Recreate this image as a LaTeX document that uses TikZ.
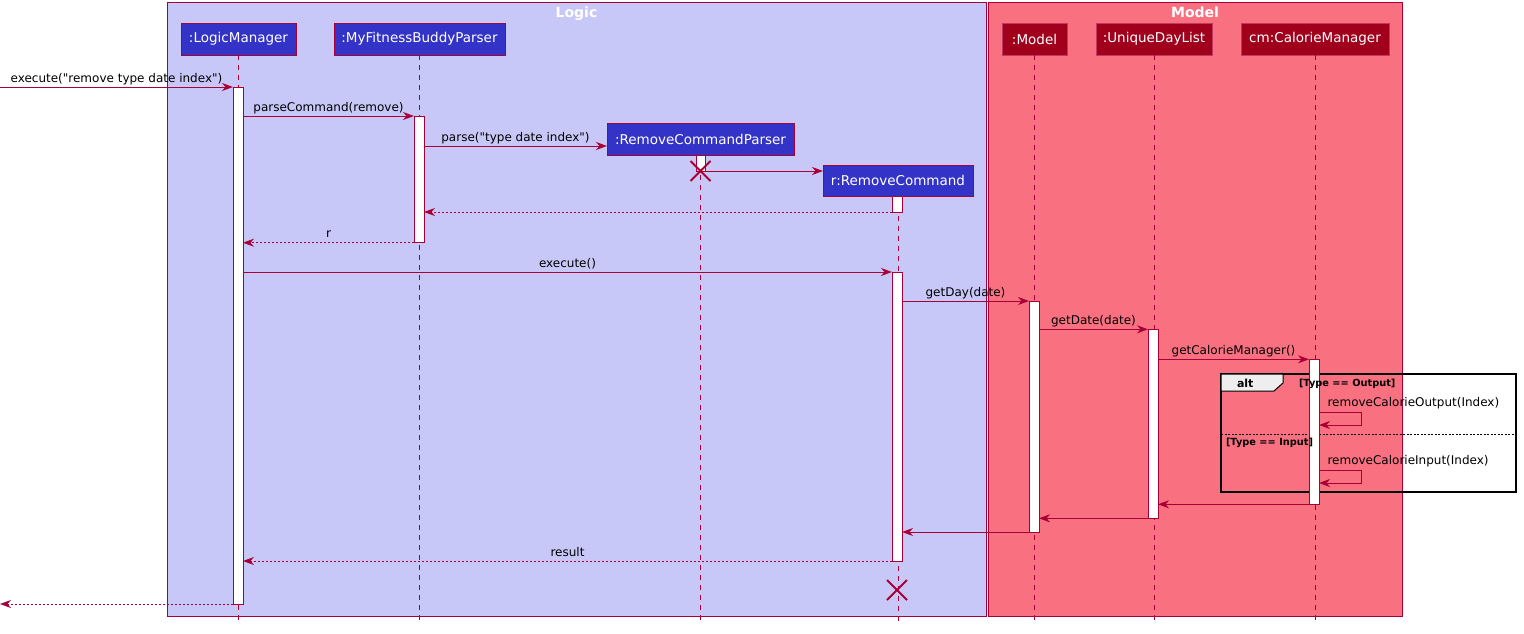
\documentclass[tikz,border=0pt]{standalone}
\usepackage{fontspec}
\setmainfont{DejaVu Sans}[Ligatures=TeXOff]
\usetikzlibrary{arrows.meta,shapes.misc}
\definecolor{crim}{HTML}{A80036}
\definecolor{logicbg}{HTML}{C8C8F8}
\definecolor{modelbg}{HTML}{F97181}
\definecolor{pblue}{HTML}{3333C8}
\definecolor{pred}{HTML}{A0001C}
\definecolor{altgray}{HTML}{EEEEEE}
\begin{document}
\begin{tikzpicture}[x=1pt,y=-1pt,
  every node/.style={inner sep=0pt, outer sep=0pt},
  grp/.style={draw=crim, line width=1pt},
  grptitle/.style={text=white, font=\bfseries\fontsize{14}{16}\selectfont, anchor=base},
  part/.style={draw=crim, line width=1pt, text=white, font=\fontsize{13.5}{16}\selectfont, minimum height=32, inner sep=0pt},
  lpart/.style={part, fill=pblue},
  mpart/.style={part, fill=pred, draw=crim!70!pink},
  act/.style={draw=crim, fill=white, line width=1pt, minimum width=10, inner sep=0pt},
  life/.style={draw=crim, line width=1pt, dash pattern=on 5pt off 5pt},
  msg/.style={draw=crim, line width=1pt, -{Stealth[length=11pt,width=8pt,inset=3.5pt]}},
  ret/.style={msg, dash pattern=on 2pt off 2pt},
  lbl/.style={font=\fontsize{12}{14}\selectfont, anchor=base, text=black, yshift=5pt},
  destroy/.style={draw=crim, line width=2pt, cross out, minimum size=20},
  guard/.style={font=\bfseries\fontsize{9.8}{11}\selectfont, anchor=base west, text=black},
  altlbl/.style={font=\bfseries\fontsize{11}{13}\selectfont, anchor=base west, text=black}
]
\useasboundingbox (0,0) rectangle (1524,633);

% group boxes
\draw[grp, fill=logicbg] (167,2.5) rectangle (986,616);
\draw[grp, fill=modelbg] (988,2.5) rectangle (1402,616);
\node[grptitle] (tLogic) at (576.5,17) {Logic};
\node[grptitle] (tModel) at (1195,17) {Model};

% participants
\node[lpart, minimum width=115] (LM) at (238.5,39) {:LogicManager};
\node[lpart, minimum width=171] (P) at (419.5,39) {:MyFitnessBuddyParser};
\node[lpart, minimum width=187] (RCP) at (700.5,139) {:RemoveCommandParser};
\node[lpart, minimum width=150, minimum height=31] (RC) at (898,180.5) {r:RemoveCommand};
\node[mpart, minimum width=65] (M) at (1034.5,39) {:Model};
\node[mpart, minimum width=116] (U) at (1154,39) {:UniqueDayList};
\node[mpart, minimum width=148] (CM) at (1315,39) {cm:CalorieManager};

% bottom reference
\coordinate (bot) at (0,621);
\coordinate (inL) at (0,87);
\coordinate (outL) at (0,604);

% lifelines
\draw[life] (LM.south) -- (LM.south |- bot);
\draw[life] (P.south) -- (P.south |- bot);
\draw[life] (RCP.south) -- (RCP.south |- bot);
\draw[life] (RC.south) -- (RC.south |- bot);
\draw[life] (M.south) -- (M.south |- bot);
\draw[life] (U.south) -- (U.south |- bot);
\draw[life] (CM.south) -- (CM.south |- bot);

% activation bars
\node[act, minimum height=517] (LMb) at (238,345.5) {};
\node[act, minimum height=126.7] (Pb) at (419,179.35) {};
\node[act, minimum width=9, minimum height=16] (RCPb) at (700.5,163) {};
\node[act, minimum height=16] (RCb1) at (897,204) {};
\node[act, minimum height=289] (RCb2) at (897,416.5) {};
\node[act, minimum height=231] (Mb) at (1034,416.5) {};
\node[act, minimum height=189] (Ub) at (1153,423.5) {};
\node[act, minimum height=145] (CMb) at (1314,431.5) {};

% y levels
\coordinate (y2) at (0,116);
\coordinate (y3) at (0,146);
\coordinate (y4) at (0,171);
\coordinate (y5) at (0,212);
\coordinate (y6) at (0,242.7);
\coordinate (y7) at (0,272);
\coordinate (y8) at (0,301);
\coordinate (y9) at (0,329.3);
\coordinate (y10) at (0,359.3);
\coordinate (s1a) at (0,412);
\coordinate (s1b) at (0,425);
\coordinate (s2a) at (0,470);
\coordinate (s2b) at (0,483);
\coordinate (y13) at (0,504.3);
\coordinate (y14) at (0,518.3);
\coordinate (y15) at (0,532);
\coordinate (y16) at (0,561);

% messages
\draw[msg] (inL) -- (LMb.west |- inL) node[lbl, midway] {execute("remove type date index")};
\draw[msg] (LMb.east |- y2) -- (Pb.west |- y2) node[lbl, midway] {parseCommand(remove)};
\draw[msg] (Pb.east |- y3) -- (RCP.west |- y3) node[lbl, midway] {parse("type date index")};
\draw[msg] (RCPb.east |- y4) -- (RC.west |- y4);
\draw[ret] (RCb1.west |- y5) -- (Pb.east |- y5);
\draw[ret] (Pb.west |- y6) -- (LMb.east |- y6) node[lbl, midway, yshift=0.5pt] {r};
\draw[msg] (LMb.east |- y7) -- (RCb2.west |- y7) node[lbl, midway] {execute()};
\draw[msg] (RCb2.east |- y8) -- (Mb.west |- y8) node[lbl, midway] {getDay(date)};
\draw[msg] (Mb.east |- y9) -- (Ub.west |- y9) node[lbl, midway] {getDate(date)};
\draw[msg] (Ub.east |- y10) -- (CMb.west |- y10) node[lbl, midway] {getCalorieManager()};

% alt frame
\draw[black, line width=2pt] (1221,374) rectangle (1516,491.5);
\draw[black, fill=altgray, line width=1pt] (1221,374) -- (1283,374) -- (1283,383) -- (1274,391) -- (1221,391) -- cycle;
\draw[black, line width=0.8pt, dash pattern=on 2pt off 1.5pt] (1221,434.5) -- (1516,434.5);

% redraw CM activation bar over frame
\node[act, minimum height=145] (CMb2) at (1314,431.5) {};

\node[altlbl] (altT) at (1237,387) {alt};
\node[guard] (g1) at (1299,386.7) {[Type == Output]};
\node[guard] (g2) at (1226,445) {[Type == Input]};

% self messages
\draw[msg] (CMb2.east |- s1a) -- (1361,412) -- (1361,425) -- (CMb2.east |- s1b);
\node[font=\fontsize{12}{14}\selectfont, anchor=base west] (l1) at (1327.5,406.5) {removeCalorieOutput(Index)};
\draw[msg] (CMb2.east |- s2a) -- (1361,470) -- (1361,483) -- (CMb2.east |- s2b);
\node[font=\fontsize{12}{14}\selectfont, anchor=base west] (l2) at (1327.5,464.5) {removeCalorieInput(Index)};

% returns
\draw[msg] (CMb2.west |- y13) -- (Ub.east |- y13);
\draw[msg] (Ub.west |- y14) -- (Mb.east |- y14);
\draw[msg] (Mb.west |- y15) -- (RCb2.east |- y15);
\draw[ret] (RCb2.west |- y16) -- (LMb.east |- y16) node[lbl, midway] {result};
\draw[ret] (LMb.west |- outL) -- (outL);

% destroys
\node[destroy] (x1) at (700.5,171) {};
\node[destroy] (x2) at (897,590) {};
\end{tikzpicture}
\end{document}
